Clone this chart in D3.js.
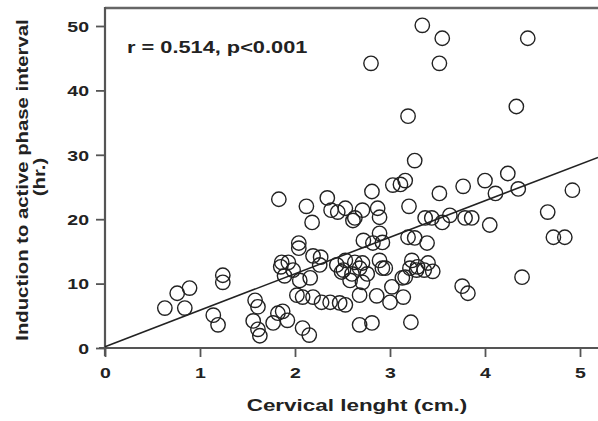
<!DOCTYPE html>
<html><head><meta charset="utf-8">
<script src="https://cdn.jsdelivr.net/npm/d3@7"></script>
<style>
html,body{margin:0;padding:0;background:#fff;}
svg text{font-family:"Liberation Sans",Arial,sans-serif;font-weight:bold;fill:#222;}
</style></head>
<body><svg id="c" width="598" height="421"></svg>
<script>
const xTicks = [0,1,2,3,4,5];
const yTicks = [0,10,20,30,40,50];
const xLabel = "Cervical lenght (cm.)";
const yLabel1 = "Induction to active phase interval";
const yLabel2 = "(hr.)";
const annotation = "r = 0.514, p<0.001";
const cervX = [0.63,0.84,0.76,0.89,1.24,1.24,1.14,1.19,1.58,1.61,1.56,1.61,1.63,1.82,1.87,1.77,
 1.83,2.12,2.18,2.34,2.38,2.45,2.53,2.61,2.71,2.04,2.04,1.86,1.93,1.98,1.89,1.85,2.19,2.27,2.26,2.05,2.16,2.02,2.08,2.19,2.28,2.37,2.47,1.92,2.08,2.15,2.44,2.51,2.63,2.68,2.60,2.76,
 2.87,2.63,2.89,2.81,2.72,2.89,2.82,2.92,2.53,2.71,2.89,2.92,2.49,2.58,2.71,2.68,2.86,3.00,3.14,2.53,3.02,3.13,2.68,2.81,3.22,
 3.03,3.11,3.16,3.20,3.26,3.19,2.80,3.34,3.55,3.52,4.45,4.33,3.52,3.77,4.00,4.11,4.24,4.35,4.92,4.66,4.72,4.84,4.39,
 3.37,3.44,3.55,3.63,3.79,3.86,4.05,3.19,3.26,3.39,3.23,3.40,3.21,3.28,3.36,3.45,3.16,3.76,3.82,3.29,2.95];
const intervalY = [6.2,6.2,8.5,9.3,11.3,10.2,5.1,3.6,7.4,6.4,4.2,2.9,1.9,5.4,5.7,3.9,
 23.1,22.0,19.5,23.3,21.4,21.1,21.7,19.8,21.4,16.3,15.5,13.3,13.3,12.1,11.2,12.6,14.3,14.1,12.9,10.5,10.9,8.2,7.9,7.9,7.1,7.1,7.0,4.3,3.1,2.0,12.9,12.1,13.3,12.4,11.5,11.5,
 21.7,20.2,20.3,24.3,16.7,17.8,16.3,16.4,13.6,13.2,13.6,12.4,11.8,10.5,10.2,8.2,8.1,7.1,7.9,6.7,9.5,10.9,3.6,3.9,4.0,
 25.3,25.4,26.0,22.0,29.1,36.0,44.2,50.1,48.1,44.2,48.1,37.5,24.0,25.1,26.0,24.0,27.1,24.7,24.5,21.1,17.2,17.2,11.0,
 20.2,20.2,19.5,20.6,20.2,20.2,19.1,17.2,17.1,16.3,13.6,13.2,12.4,12.1,12.1,11.9,11.0,9.6,8.5,12.6,12.4];
const regX = [0, 5.19];
const regY = [0.2, 29.6];

const svg = d3.select("#c");
const x = d3.scaleLinear().domain([0,5]).range([105,580]);
const y = d3.scaleLinear().domain([0,50]).range([348,26]);
const col = "#222";
const SX = 1.3;

// frame lines
svg.append("line").attr("x1",x(0)).attr("x2",598).attr("y1",8).attr("y2",8).attr("stroke","#666").attr("stroke-width",2.5);
svg.append("line").attr("x1",99).attr("x2",598).attr("y1",y(0)).attr("y2",y(0)).attr("stroke","#555").attr("stroke-width",2.2);
svg.append("line").attr("x1",x(0)).attr("x2",x(0)).attr("y1",7).attr("y2",356).attr("stroke","#555").attr("stroke-width",2.2);

const yAxis = d3.axisLeft(y).tickValues(yTicks).tickFormat(d3.format("d")).tickSize(9).tickPadding(5);
const gy = svg.append("g").attr("transform",`translate(${x(0)},0)`).call(yAxis);
gy.select(".domain").remove();
gy.selectAll("line").attr("stroke","#555").attr("stroke-width",1.8);
gy.selectAll("text").attr("font-size",15).attr("dy","0.35em")
  .attr("x",-16/SX).attr("transform",`scale(${SX},1)`);

const xAxis = d3.axisBottom(x).tickValues(xTicks).tickFormat(d3.format("d")).tickSize(9).tickPadding(10);
const gx = svg.append("g").attr("transform",`translate(0,${y(0)})`).call(xAxis);
gx.select(".domain").remove();
gx.selectAll("line").attr("stroke","#555").attr("stroke-width",1.8);
gx.selectAll("text").attr("font-size",15).attr("transform",`scale(${SX},1)`);

// regression line
svg.append("line").attr("x1",x(regX[0])).attr("y1",y(regY[0])).attr("x2",x(regX[1])).attr("y2",y(regY[1]))
  .attr("stroke",col).attr("stroke-width",1.6);

// points
svg.append("g").selectAll("circle").data(cervX.map((v,i)=>[v,intervalY[i]])).join("circle")
  .attr("cx",d=>x(d[0])).attr("cy",d=>y(d[1])).attr("r",7.2)
  .attr("fill","none").attr("stroke",col).attr("stroke-width",1.4);

svg.append("text").attr("transform","translate(127,53) scale(1.32,1)").attr("font-size",16.5).text(annotation);
svg.append("text").attr("transform","translate(357,411) scale(1.36,1)").attr("text-anchor","middle").attr("font-size",16.5).text(xLabel);
svg.append("text").attr("transform","translate(28,180) rotate(-90) scale(1.27,1)").attr("text-anchor","middle").attr("font-size",16).text(yLabel1);
svg.append("text").attr("transform","translate(45,177) rotate(-90) scale(1.27,1)").attr("text-anchor","middle").attr("font-size",16).text(yLabel2);
</script></body></html>
